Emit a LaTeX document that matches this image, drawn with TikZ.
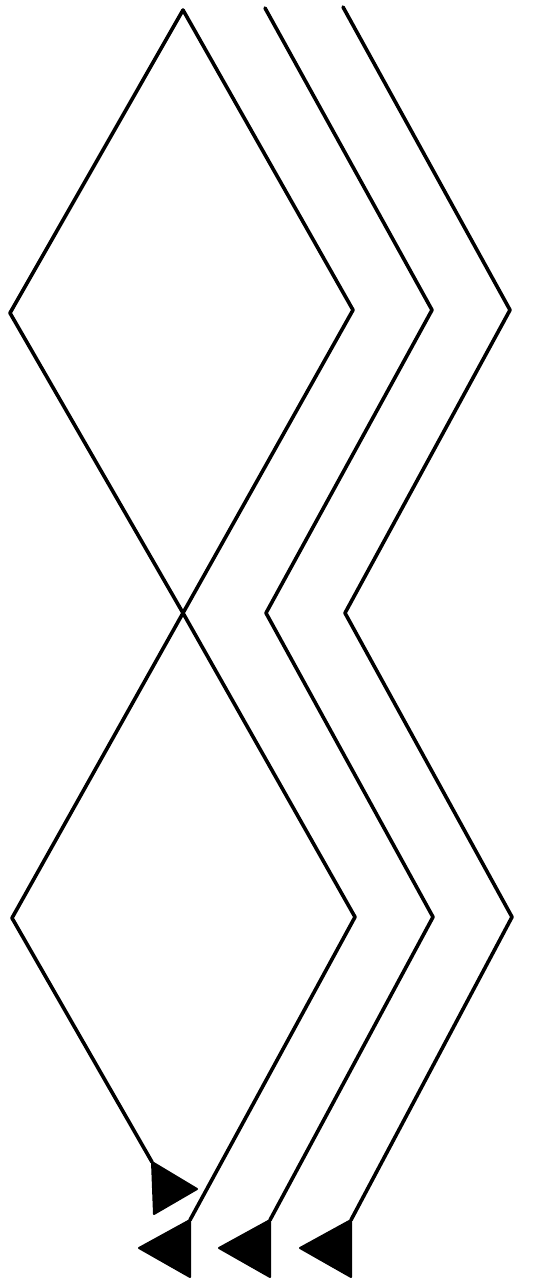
\documentclass[tikz,border=0pt]{standalone}
\usetikzlibrary{calc}
\begin{document}
\begin{tikzpicture}[x=1pt, y=-1pt,
  wire/.style={line width=3.6pt, line join=round, line cap=round},
  flag/.style={fill=black, draw=black, line width=2pt, line join=round}]
  \useasboundingbox (0,0) rectangle (534,1284);
  % the two crossing lines
  \coordinate (top) at (183,10);
  \coordinate (ul) at (10,313);
  \coordinate (ur) at (353,310);
  \coordinate (cross) at (183,613);
  \coordinate (ll) at (12,918);
  \coordinate (lr) at (355,917);
  \coordinate (endB) at (152,1162);
  \coordinate (endA) at (190,1220);
  \draw[wire] (top) -- (ul) -- (cross) -- (lr) -- (endA);
  \draw[wire] (top) -- (ur) -- (cross) -- (ll) -- (endB);
  % the two chevron lines
  \coordinate (s2) at (265,8);
  \coordinate (r2) at (432,310);
  \coordinate (l2) at (266,613);
  \coordinate (q2) at (433,917);
  \coordinate (end2) at (270,1220);
  \coordinate (s3) at (343,7);
  \coordinate (r3) at (510,310);
  \coordinate (l3) at (345,613);
  \coordinate (q3) at (512,917);
  \coordinate (end3) at (351,1220);
  \draw[wire] (s2) -- (r2) -- (l2) -- (q2) -- (end2);
  \draw[wire] (s3) -- (r3) -- (l3) -- (q3) -- (end3);
  % arrow heads
  \filldraw[flag] (endB) -- ++(2,52) -- ++(43,-25) -- cycle;
  \foreach \e in {endA,end2,end3}
    \filldraw[flag] (\e) -- ++(0,57) -- ++(-51,-29) -- cycle;
\end{tikzpicture}
\end{document}
